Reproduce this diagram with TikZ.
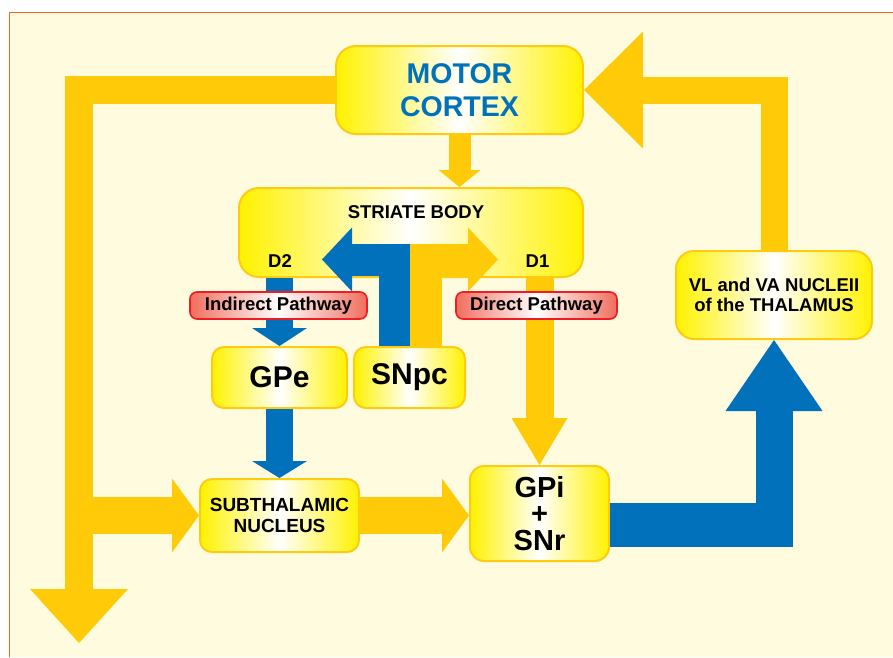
\documentclass[tikz,border=0pt]{standalone}
\usepackage{fontspec}
\setmainfont{Liberation Sans}
\usetikzlibrary{arrows.meta}

\definecolor{bgyel}{HTML}{FFFBDF}
\definecolor{frameline}{HTML}{F26522}
\definecolor{bandyel}{HTML}{FFCB08}
\definecolor{bandblue}{HTML}{0071BA}
\definecolor{boxyel}{HTML}{FFF200}
\definecolor{boxline}{HTML}{FDCB10}
\definecolor{pathred}{HTML}{EE1C25}
\definecolor{pathfill}{HTML}{F06E5E}
\definecolor{cortexblue}{HTML}{0072BC}

\tikzset{
	box/.style={draw=boxline, line width=2pt, rounded corners=#1, left color=boxyel, right color=boxyel, middle color=white, inner sep=0pt, align=center},
	box/.default=12pt,
	pathbox/.style={draw=pathred, line width=1.6pt, rounded corners=7pt, left color=pathfill, right color=pathfill, middle color=white, inner sep=0pt, minimum width=#1, minimum height=27pt, font=\fontsize{18.5}{20}\selectfont\bfseries},
	yband/.style={draw=bandyel, line width=#1},
	bband/.style={draw=bandblue, line width=#1},
}

\begin{document}
\begin{tikzpicture}[x=1pt, y=-1pt]
		\useasboundingbox (0,0) rectangle (893,657);
		\fill[white] (0,0) rectangle (893,657);
		\fill[bgyel] (9,12) rectangle (893,657);
		\draw[frameline, line width=1pt] (893,12) -- (9,12) -- (9,657);
		
		% boxes
		\node[box=20pt, minimum width=247pt, minimum height=88pt, text=cortexblue, font=\fontsize{28.5}{33}\selectfont\bfseries] (mc) at (459.5,90) {MOTOR\\CORTEX};
		\node[box=20pt, minimum width=344pt, minimum height=89pt] (sb) at (411,232.5) {};
		\node[anchor=base, font=\fontsize{18.5}{20}\selectfont\bfseries] (sbname) at (416,218) {STRIATE BODY};
		\node[anchor=base, font=\fontsize{18.5}{20}\selectfont\bfseries] (dtwo) at (280,267) {D2};
		\node[anchor=base, font=\fontsize{18.5}{20}\selectfont\bfseries] (done) at (537.5,267) {D1};
		\node[box, minimum width=135pt, minimum height=61pt, font=\fontsize{30}{30}\selectfont\bfseries] (gpe) at (279.5,377.5) {GPe};
		\node[box, minimum width=111pt, minimum height=61pt, font=\fontsize{30}{30}\selectfont\bfseries] (snpc) at (409.5,377.5) {SNpc};
		\node[box, minimum width=159pt, minimum height=73pt, font=\fontsize{19}{21}\selectfont\bfseries] (stn) at (279.5,515.5) {SUBTHALAMIC\\NUCLEUS};
		\node[box=14pt, minimum width=139pt, minimum height=95pt, font=\fontsize{29}{26.5}\selectfont\bfseries] (gpi) at (539.5,513.5) {GPi\\+\\SNr};
		\node[box=18pt, minimum width=196pt, minimum height=88pt, font=\fontsize{18.5}{20}\selectfont\bfseries] (thal) at (774,295) {VL and VA NUCLEII\\of the THALAMUS};
		
		% yellow pathways
		\coordinate (down) at (79,643);
		\coordinate (fork) at (79,515.5);
		\draw[yband=27.5pt, -{Triangle[length=54pt, width=98pt, line width=0pt]}] (mc.west) -| (down);
		\draw[yband=37pt, -{Triangle[length=27pt, width=74pt, line width=0pt]}] (fork) -- (stn.west);
		\draw[yband=37pt, -{Triangle[length=27pt, width=74pt, line width=0pt]}] (stn.east) -- (stn.east -| gpi.west);
		\draw[yband=22pt, -{Triangle[length=17pt, width=42pt, line width=0pt]}] (mc.south) -- (mc.south |- sb.north);
		\draw[yband=27pt, -{Triangle[length=59pt, width=117pt, line width=0pt]}] (thal.north) |- (mc.east);
		\draw[yband=28pt, -{Triangle[length=47pt, width=56pt, line width=0pt]}] (gpi.north |- sb.south) -- (gpi.north);
		
		% blue pathways
		\draw[bband=27pt, -{Triangle[length=18pt, width=55pt, line width=0pt]}] (gpe.north |- sb.south) -- (gpe.north);
		\draw[bband=27pt, -{Triangle[length=17pt, width=55pt, line width=0pt]}] (gpe.south) -- (stn.north);
		\coordinate (elbow) at (774,525);
		\draw[bband=44.6pt] ([yshift=-11.5pt]gpi.east) -- ([xshift=18.5pt]elbow);
		\draw[bband=37pt, -{Triangle[length=71pt, width=97pt, line width=0pt]}] ([yshift=-22.3pt]elbow) -- (thal.south);
		
		% dopamine from SNpc
		\coordinate (dtwotip) at (322,259.5);
		\coordinate (donetip) at (498,259.5);
		\draw[bband=32pt, -{Triangle[length=30pt, width=64pt, line width=0pt]}] ([xshift=-15pt]snpc.north) |- (dtwotip);
		\draw[yband=32pt, -{Triangle[length=30pt, width=64pt, line width=0pt]}] ([xshift=16.5pt]snpc.north) |- (donetip);
		
		% pathway labels
		\node[pathbox=177pt] (ind) at (278.5,305.5) {Indirect Pathway};
		\node[pathbox=161pt] (dir) at (536.5,305.5) {Direct Pathway};
	\end{tikzpicture}
\end{document}
